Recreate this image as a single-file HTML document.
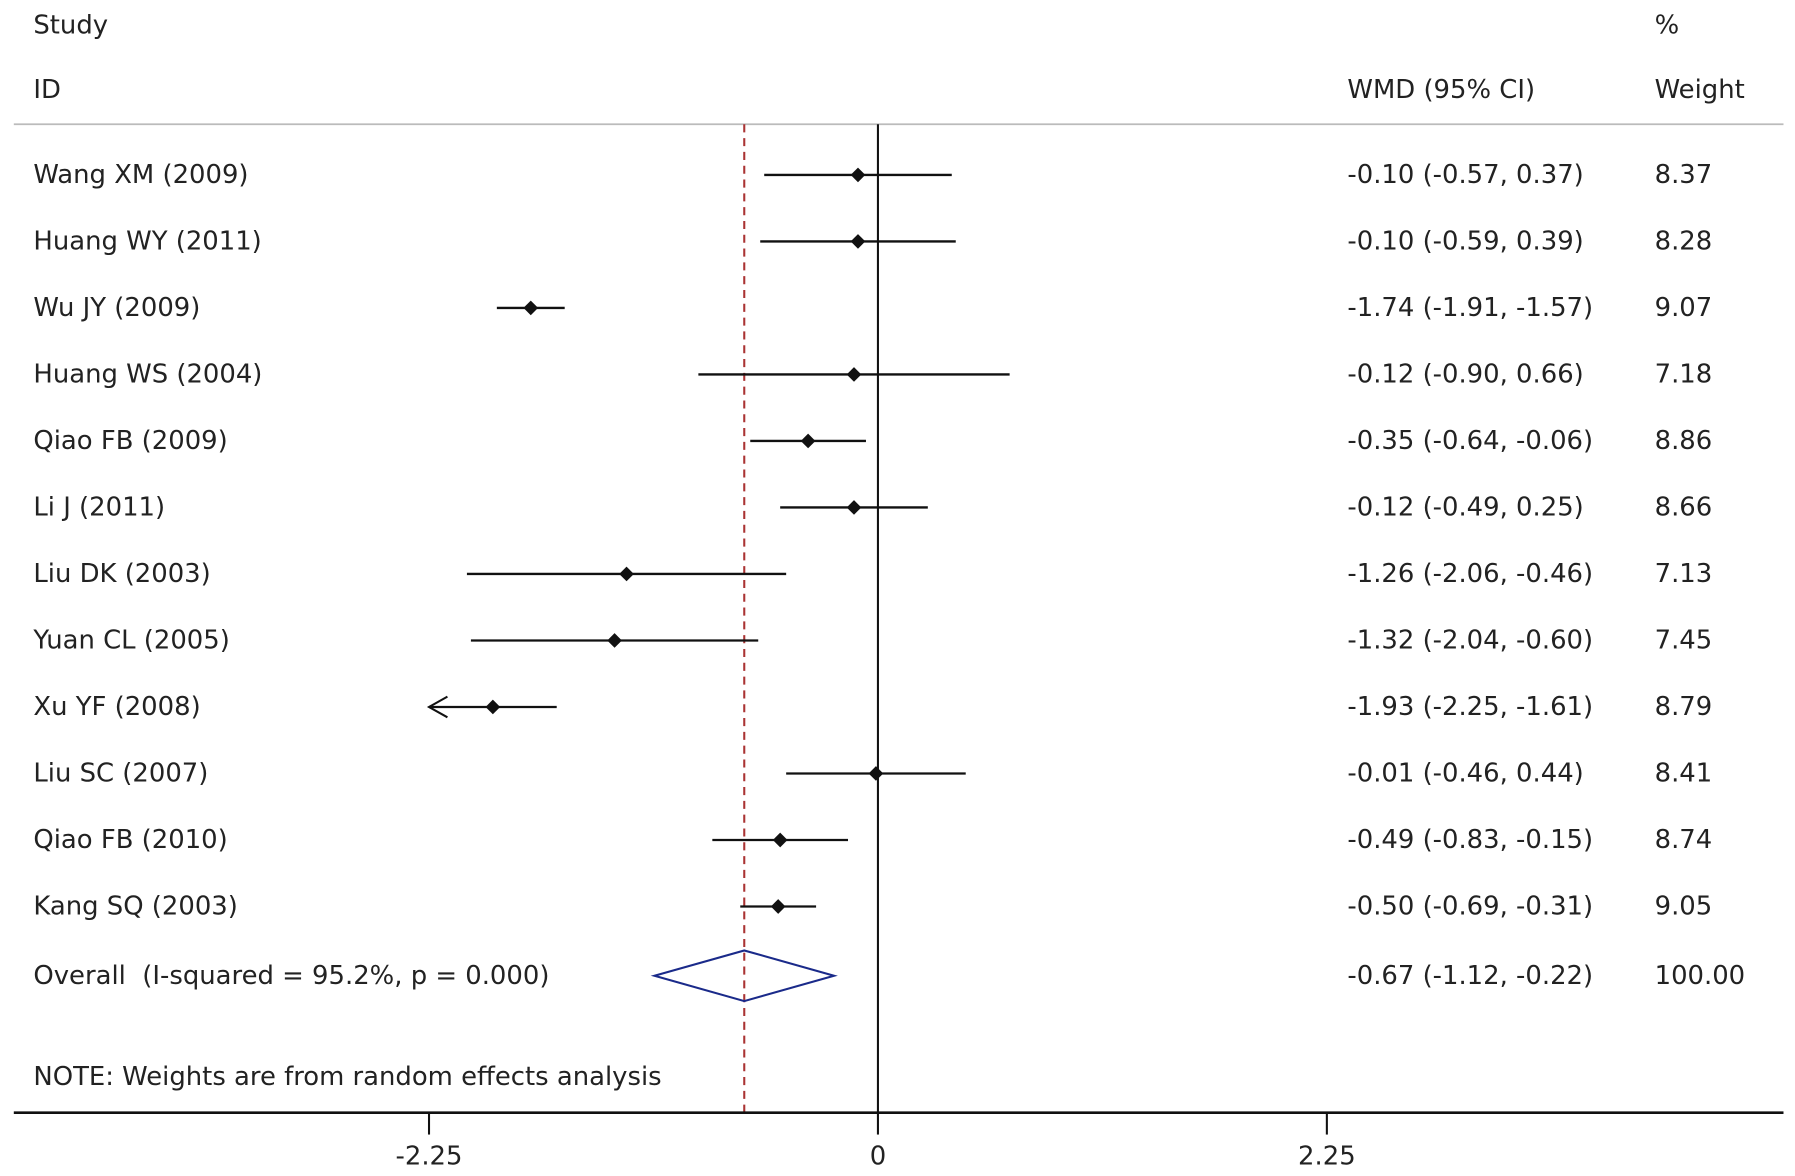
<!DOCTYPE html>
<html><head><meta charset="utf-8"><style>
html,body{margin:0;padding:0;background:#fff;}
svg{display:block;}
text{font-family:"DejaVu Sans","Liberation Sans",sans-serif;font-size:22.5px;fill:#222;white-space:pre;}
</style></head><body>
<svg id="chart" width="1795" height="1176" viewBox="0 0 1560 1022" xmlns="http://www.w3.org/2000/svg">
<g id="static">
<text x="29" y="29">Study</text>
<text x="29" y="85">ID</text>
<text x="1171" y="85">WMD (95% CI)</text>
<text x="1438" y="29">%</text>
<text x="1438" y="85">Weight</text>
<line x1="12" y1="108" x2="1550" y2="108" stroke="#bbb" stroke-width="1.5"/>
<text x="29" y="943">NOTE: Weights are from random effects analysis</text>
</g>
<g id="plot"></g>
</svg>
<script>
const studies=["Wang XM (2009)","Huang WY (2011)","Wu JY (2009)","Huang WS (2004)","Qiao FB (2009)","Li J (2011)","Liu DK (2003)","Yuan CL (2005)","Xu YF (2008)","Liu SC (2007)","Qiao FB (2010)","Kang SQ (2003)"];
const est=[-0.10,-0.10,-1.74,-0.12,-0.35,-0.12,-1.26,-1.32,-1.93,-0.01,-0.49,-0.50];
const lower=[-0.57,-0.59,-1.91,-0.90,-0.64,-0.49,-2.06,-2.04,-2.25,-0.46,-0.83,-0.69];
const upper=[0.37,0.39,-1.57,0.66,-0.06,0.25,-0.46,-0.60,-1.61,0.44,-0.15,-0.31];
const ciLabels=["-0.10 (-0.57, 0.37)","-0.10 (-0.59, 0.39)","-1.74 (-1.91, -1.57)","-0.12 (-0.90, 0.66)","-0.35 (-0.64, -0.06)","-0.12 (-0.49, 0.25)","-1.26 (-2.06, -0.46)","-1.32 (-2.04, -0.60)","-1.93 (-2.25, -1.61)","-0.01 (-0.46, 0.44)","-0.49 (-0.83, -0.15)","-0.50 (-0.69, -0.31)"];
const weights=["8.37","8.28","9.07","7.18","8.86","8.66","7.13","7.45","8.79","8.41","8.74","9.05"];
const overall=[-0.67,-1.12,-0.22];
const overallLabel="-0.67 (-1.12, -0.22)";
const overallWeight="100.00";
const overallText="Overall  (I-squared = 95.2%, p = 0.000)";
const ticks=[-2.25,0,2.25];
const tickLabels=["-2.25","0","2.25"];
const xMin=-2.25;

const NS="http://www.w3.org/2000/svg";
const g=document.getElementById('plot');
const X=v=>763+v*173.4;
const rowY=i=>152+i*57.8;
function mk(t,a,txt){const e=document.createElementNS(NS,t);for(const k in a)e.setAttribute(k,a[k]);if(txt!==undefined)e.textContent=txt;g.appendChild(e);return e;}
const yTop=108,yAxis=967;
let e;
e=mk('line',{x1:X(0),y1:yTop,x2:X(0),y2:yAxis,stroke:'#111','stroke-width':1.8});


e=mk('line',{x1:X(overall[0]),y1:yTop,x2:X(overall[0]),y2:yAxis,stroke:'#a33','stroke-width':1.8,'stroke-dasharray':'7,5'});


studies.forEach((s,i)=>{
 const y=rowY(i);
 e=mk('text',{x:29,y:y+7},s);
 
 
 const lo=Math.max(lower[i],xMin);
 e=mk('line',{x1:X(lo),y1:y,x2:X(upper[i]),y2:y,stroke:'#111','stroke-width':2});
 
 
 if(lower[i]<=xMin){
  e=mk('polyline',{points:`${X(lo)+16},${y-9} ${X(lo)},${y} ${X(lo)+16},${y+9}`,fill:'none',stroke:'#111','stroke-width':1.8});
  
  
 }
 e=mk('rect',{x:X(est[i])-4.5,y:y-4.5,width:9,height:9,fill:'#111',transform:`rotate(45 ${X(est[i])} ${y})`});
 
 
 e=mk('text',{x:1171,y:y+7},ciLabels[i]);
 
 
 e=mk('text',{x:1438,y:y+7},weights[i]);
 
 
});
const oy=848;
e=mk('text',{x:29,y:oy+7},overallText);


e=mk('polygon',{points:`${X(overall[1])},${oy} ${X(overall[0])},${oy-22} ${X(overall[2])},${oy} ${X(overall[0])},${oy+22}`,fill:'none',stroke:'#1a2a8a','stroke-width':1.8});


e=mk('text',{x:1171,y:oy+7},overallLabel);


e=mk('text',{x:1438,y:oy+7},overallWeight);


e=mk('line',{x1:12,y1:yAxis,x2:1550,y2:yAxis,stroke:'#111','stroke-width':2.2});


ticks.forEach((t,i)=>{
 e=mk('line',{x1:X(t),y1:yAxis,x2:X(t),y2:yAxis+19,stroke:'#111','stroke-width':1.8});
 
 
 e=mk('text',{x:X(t),y:1012,'text-anchor':'middle'},tickLabels[i]);
 
 
});
</script>
</body></html>
